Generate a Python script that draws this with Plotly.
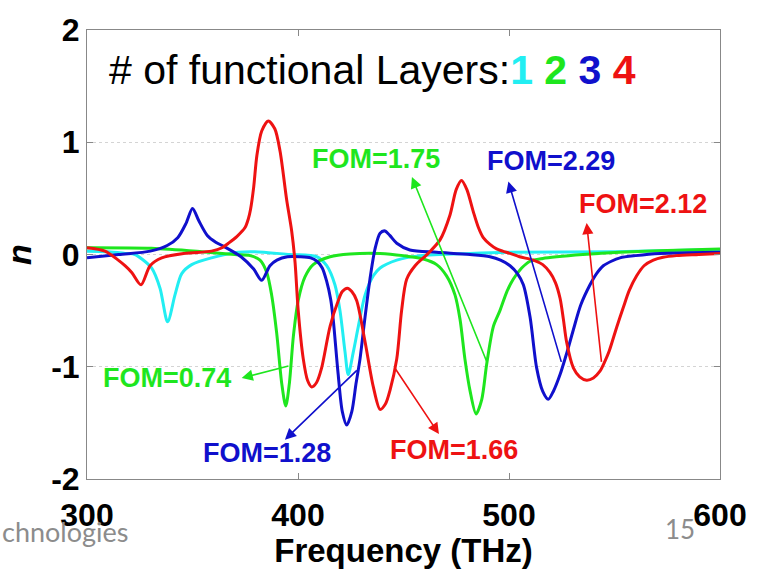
import plotly.graph_objects as go

# ---- data ----
freq_1 = [300, 310, 318, 322.7, 326, 330.6, 334.6, 338.2, 341.7, 344.9, 349.6, 359, 371.7, 379.6,
          396, 408.9, 413.6, 417.5, 419.9, 422.3, 423.8, 426.2, 428.6, 431.8, 435.7, 438.9, 446.8,
          457.8, 481.5, 500, 550, 600]
n_1 = [0.03, 0.025, 0.01, 0.0, -0.04, -0.12, -0.30, -0.60, -0.36, -0.17, -0.09, -0.03, 0.02, 0.025,
       0.0, -0.02, -0.10, -0.27, -0.50, -0.87, -1.07, -0.87, -0.64, -0.36, -0.19, -0.12, -0.05,
       -0.01, 0.01, 0.02, 0.025, 0.045]

freq_2 = [300, 330.6, 354.3, 370, 377.3, 382, 385.2, 387.5, 389.9, 392.3, 394.2, 395.9, 397.8, 400.1,
          403.3, 407.2, 415.2, 424.6, 438.9, 449.9, 459.4, 465.7, 470.4, 474.4, 476.8, 479.1, 481.5,
          484.4, 487.1, 489.4, 492.6, 495.7, 499, 502, 506, 510, 516, 522.6, 535, 552.6, 575, 600]
n_2 = [0.06, 0.055, 0.025, 0.0, -0.01, -0.05, -0.16, -0.36, -0.70, -1.15, -1.35, -1.15, -0.73, -0.41,
       -0.20, -0.09, -0.02, 0.005, 0.01, -0.01, -0.04, -0.09, -0.19, -0.36, -0.58, -0.93, -1.21,
       -1.42, -1.29, -0.98, -0.64, -0.50, -0.33, -0.22, -0.12, -0.06, -0.035, -0.02, 0.0, 0.02,
       0.035, 0.05]

freq_3 = [300, 315, 330, 338, 343, 347, 350, 353, 357, 361, 365, 373, 379, 382.8, 386.7, 390, 395,
          401, 406, 409, 411.5, 413.6, 415.5, 416.7, 419, 421, 423.1, 425.5, 427.5, 429.4, 431.5,
          434.1, 436.5, 438.9, 441.2, 443.5, 446.8, 453, 465.7, 481.5, 491, 496, 500.5, 504, 506.8,
          510, 513.1, 516, 518.6, 521, 524.2, 527.5, 530.5, 534, 538.4, 541.5, 544.7, 548.5, 552.6,
          560, 571.6, 585, 600]
n_3 = [-0.03, 0.0, 0.03, 0.08, 0.15, 0.28, 0.41, 0.30, 0.17, 0.11, 0.07, -0.02, -0.13, -0.23, -0.10,
       -0.05, -0.02, -0.02, -0.03, -0.06, -0.12, -0.24, -0.40, -0.58, -1.06, -1.40, -1.52, -1.40,
       -1.15, -0.93, -0.60, -0.22, 0.05, 0.19, 0.21, 0.17, 0.10, 0.04, 0.02, 0.0, -0.02, -0.05, -0.10,
       -0.17, -0.27, -0.56, -1.01, -1.22, -1.29, -1.22, -1.07, -0.87, -0.67, -0.45, -0.27, -0.17,
       -0.10, -0.06, -0.03, -0.01, 0.01, 0.015, 0.02]

freq_4 = [300, 308.5, 314.8, 318, 321.2, 325.6, 329.9, 335.4, 346.4, 359, 364, 367, 371, 374.9, 376.5,
          377.5, 379, 380.5, 382.8, 385.9, 389, 391.5, 394.6, 397, 398.6, 400.1, 402.5, 404.5, 406.5,
          408.8, 411.2, 415.2, 419.1, 421, 423.4, 425.5, 427.8, 431.8, 435.7, 438.9, 441.5, 443.6,
          446.8, 449.1, 451.5, 455.5, 461.7, 467.3, 472, 475, 477.5, 480, 483.1, 485.5, 487.8, 491,
          494.1, 497, 500.5, 505, 511.5, 516, 519.4, 522, 524.2, 525.8, 527.3, 530.5, 533.5, 536.8,
          540, 543.1, 545.5, 547.5, 551, 554.2, 557, 560.5, 564, 568.4, 573, 579.4, 590, 600]
n_4 = [0.06, 0.03, -0.05, -0.10, -0.16, -0.27, -0.10, -0.03, 0.01, 0.03, 0.06, 0.10, 0.16, 0.24, 0.32,
       0.40, 0.60, 0.88, 1.10, 1.19, 1.12, 0.92, 0.49, 0.21, -0.07, -0.50, -0.93, -1.12, -1.18,
       -1.14, -1.01, -0.64, -0.41, -0.33, -0.30, -0.33, -0.41, -0.78, -1.18, -1.38, -1.33, -1.21,
       -0.93, -0.50, -0.22, -0.10, 0.01, 0.13, 0.35, 0.58, 0.66, 0.58, 0.38, 0.24, 0.15, 0.09,
       0.05, 0.03, 0.01, -0.02, -0.05, -0.09, -0.16, -0.25, -0.39, -0.58, -0.78, -1.01, -1.09, -1.12,
       -1.10, -1.04, -0.95, -0.86, -0.65, -0.47, -0.32, -0.19, -0.10, -0.05, -0.025, -0.01, 0.0, 0.01]

colors = ["#22eef2", "#1ee61e", "#1010cc", "#ee1212"]
series = [(freq_1, n_1), (freq_2, n_2), (freq_3, n_3), (freq_4, n_4)]

# FOM labels: text, text position, arrow head, arrow tail, color index
fom_text = ["FOM=1.75", "FOM=2.29", "FOM=2.12", "FOM=0.74", "FOM=1.28", "FOM=1.66"]
fom_text_pos = [(437.2, 0.85), (519.9, 0.83), (563.7, 0.45), (337.9, -1.10), (385.3, -1.77), (473.9, -1.74)]
fom_head = [(454.0, 0.69), (499.7, 0.65), (536.8, 0.28), (373.3, -1.10), (393.8, -1.65), (466.8, -1.60)]
fom_tail = [(490.0, -0.98), (525.0, -0.97), (543.9, -0.97), (396.2, -0.99), (428.6, -1.02), (445.5, -1.00)]
fom_color = [1, 2, 3, 1, 2, 3]

fig = go.Figure()
for (fx, ny), c in zip(series, colors):
    fig.add_trace(go.Scatter(x=fx, y=ny, mode="lines",
                             line=dict(color=c, width=3, shape="spline", smoothing=0.8),
                             showlegend=False, hoverinfo="skip"))

FONT = "Liberation Sans, Arial, sans-serif"
ann = []
for t, (tx, ty), (hx, hy), (sx, sy), ci in zip(fom_text, fom_text_pos, fom_head, fom_tail, fom_color):
    ann.append(dict(x=hx, y=hy, ax=sx, ay=sy, xref="x", yref="y", axref="x", ayref="y",
                    text="", showarrow=True, arrowhead=2, arrowsize=1.4, arrowwidth=1.6,
                    arrowcolor=colors[ci]))
    ann.append(dict(x=tx, y=ty, xref="x", yref="y", text="<b>%s</b>" % t, showarrow=False,
                    font=dict(family=FONT, size=27, color=colors[ci])))

title_txt = ("# of functional Layers:<b>"
             "<span style='color:%s'>1</span> <span style='color:%s'>2</span> "
             "<span style='color:%s'>3</span> <span style='color:%s'>4</span></b>" % tuple(colors))
ann.append(dict(x=0.0316, y=0.912, xref="paper", yref="paper", xanchor="left", yanchor="middle",
                text=title_txt, showarrow=False, font=dict(family=FONT, size=41, color="black")))
ann.append(dict(x=-0.1374, y=-0.118, xref="paper", yref="paper", xanchor="left", yanchor="middle",
                text="chnologies", showarrow=False, font=dict(family="Lato, sans-serif", size=27, color="#8c8c8c")))
ann.append(dict(x=0.937, y=-0.112, xref="paper", yref="paper", xanchor="center", yanchor="middle",
                text="15", showarrow=False, font=dict(family="Lato, sans-serif", size=26, color="#8c8c8c")))

fig.update_layout(
    width=759, height=569,
    margin=dict(l=87, r=39, t=23, b=76),
    paper_bgcolor="white", plot_bgcolor="white",
    annotations=ann,
    font=dict(family=FONT, color="black"),
)
fig.update_xaxes(range=[300, 600], tickvals=[300, 400, 500, 600],
                 ticktext=["<b>300</b>", "<b>400</b>", "<b>500</b>", "<b>600</b>"],
                 tickfont=dict(size=32, family=FONT), ticks="inside", ticklen=6, tickcolor="#888",
                 showline=True, linecolor="#888", linewidth=1, mirror="ticks",
                 showgrid=False, zeroline=False, ticklabelstandoff=8,
                 title=dict(text="<b>Frequency (THz)</b>", font=dict(size=33, family=FONT), standoff=0))
fig.update_yaxes(range=[-2, 2], tickvals=[-2, -1, 0, 1, 2],
                 ticktext=["<b>-2</b>", "<b>-1</b>", "<b>0</b>", "<b>1</b>", "<b>2</b>"],
                 tickfont=dict(size=32, family=FONT), ticks="inside", ticklen=6, tickcolor="#888",
                 showline=True, linecolor="#888", linewidth=1, mirror="ticks",
                 showgrid=True, gridcolor="#d4d4d4", griddash="dot", gridwidth=1, zeroline=False,
                 title=dict(text="<b><i>n</i></b>", font=dict(size=34, family=FONT), standoff=12))

fig.write_html("out.html")
